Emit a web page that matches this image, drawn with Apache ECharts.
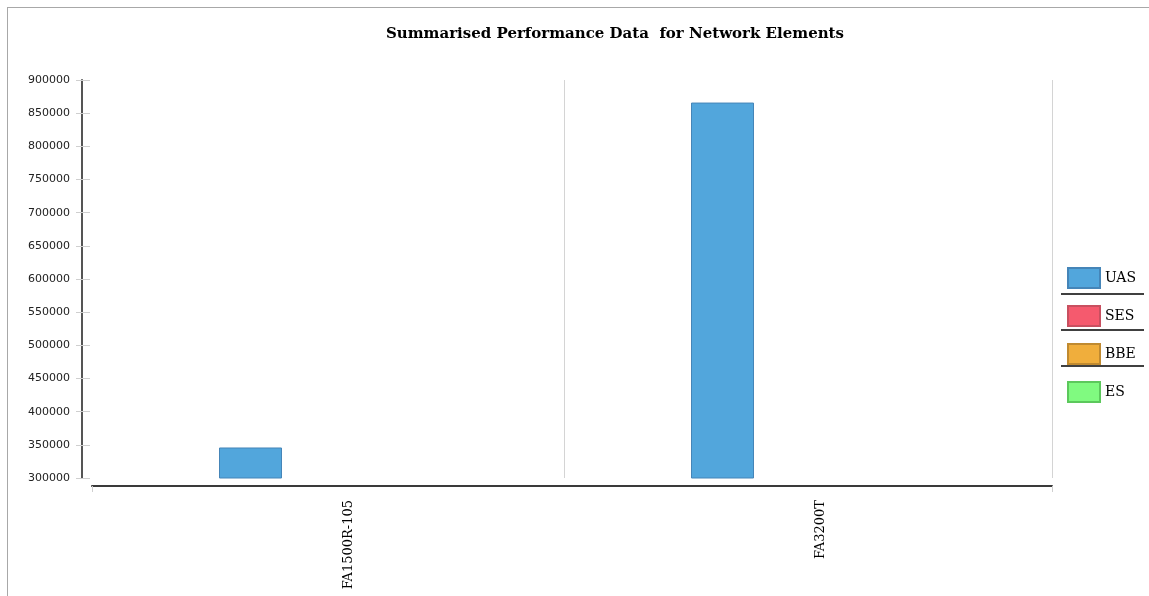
<!DOCTYPE html>
<html>
<head>
<meta charset="utf-8">
<title>Summarised Performance Data</title>
<script src="https://cdn.jsdelivr.net/npm/echarts@6/dist/echarts.min.js"></script>
<style>
  html, body { margin: 0; padding: 0; background: #fff; overflow: hidden; }
  #frame {
    position: absolute; left: 7px; top: 7px;
    width: 1300px; height: 800px;
    border: 1px solid #a8a8a8;
  }
  #chart { position: absolute; left: 0; top: 0; width: 1149px; height: 596px; }
</style>
</head>
<body>
<div id="frame"></div>
<div id="chart"></div>
<script>
// data
const categories = ['FA1500R-105', 'FA3200T']
const seriesNames = ['UAS', 'SES', 'BBE', 'ES']
const uasValues = [346000, 866000]
const sesValues = [null, null]
const bbeValues = [null, null]
const esValues = [null, null]
const yMin = 300000
const yMax = 900000
const yStep = 50000

const colors = {
  UAS: { fill: '#52a6dc', border: '#4585b8' },
  SES: { fill: '#f55a6e', border: '#c85060' },
  BBE: { fill: '#f0ae3c', border: '#c08a30' },
  ES: { fill: '#80fa80', border: '#5cc85c' }
}

const valuesByName = { UAS: uasValues, SES: sesValues, BBE: bbeValues, ES: esValues }

const chart = echarts.init(document.getElementById('chart'))

const option = {
  animation: false,
  title: {
    text: 'Summarised Performance Data  for Network Elements',
    left: 386,
    top: 27,
    padding: 0,
    textStyle: {
      fontFamily: 'DejaVu Serif',
      fontWeight: 'bold',
      fontSize: 15,
      color: '#000'
    }
  },
  legend: {
    orient: 'vertical',
    left: 1067,
    top: 267,
    padding: 0,
    itemWidth: 32,
    itemHeight: 20,
    itemGap: 16,
    icon: 'rect',
    data: seriesNames,
    textStyle: { fontFamily: 'DejaVu Serif', fontSize: 14, color: '#000', padding: [4, 0, 0, 0] }
  },
  grid: [
    { left: 92, right: 113, top: 80, bottom: 118 },
    { left: 92, right: 97, top: 80, bottom: 118 }
  ],
  xAxis: [
    {
      type: 'category',
      gridIndex: 0,
      data: categories,
      offset: 8,
      axisLine: { show: false },
      axisTick: { show: false },
      axisLabel: {
        rotate: 90,
        margin: 14,
        lineHeight: 42,
        formatter: v => '\n' + v,
        fontFamily: 'DejaVu Serif',
        fontSize: 13,
        color: '#000'
      },
      splitLine: {
        show: true,
        lineStyle: { color: ['rgba(0,0,0,0)', '#d4d4d4', 'rgba(0,0,0,0)'], width: 1 }
      }
    },
    {
      type: 'value',
      gridIndex: 1,
      min: 0,
      max: 1,
      interval: 1,
      offset: 8,
      axisLine: { show: true, onZero: false, lineStyle: { color: '#3a3a3a', width: 2 } },
      axisTick: { show: true, length: 6, lineStyle: { color: '#cfcfcf' } },
      axisLabel: { show: false },
      splitLine: { show: true, showMinLine: false, lineStyle: { color: '#d4d4d4' } }
    }
  ],
  yAxis: [
    {
      type: 'value',
      gridIndex: 0,
      position: 'left',
      min: yMin,
      max: yMax,
      interval: yStep,
      offset: 10,
      axisLine: { show: true, onZero: false, lineStyle: { color: '#555', width: 2 } },
      axisTick: { show: true, length: 6, lineStyle: { color: '#cfcfcf' } },
      axisLabel: {
        margin: 12,
        formatter: v => String(v),
        fontFamily: 'DejaVu Sans',
        fontSize: 11,
        color: '#222'
      },
      splitLine: { show: false }
    },
    {
      // inner half of the crossing ticks
      type: 'value',
      gridIndex: 0,
      position: 'left',
      min: yMin,
      max: yMax,
      interval: yStep,
      offset: 10,
      axisLine: { show: false, onZero: false },
      axisTick: { show: true, inside: true, length: 8, lineStyle: { color: '#cfcfcf' } },
      axisLabel: { show: false },
      splitLine: { show: false }
    },
    { type: 'value', gridIndex: 1, min: 0, max: 1, show: false }
  ],
  series: seriesNames.map(name => ({
    name,
    type: 'bar',
    xAxisIndex: 0,
    yAxisIndex: 0,
    data: valuesByName[name],
    barWidth: 63,
    barGap: '-18%',
    itemStyle: {
      color: colors[name].fill,
      borderColor: colors[name].border,
      borderWidth: 1
    }
  })),
  graphic: [
    { type: 'line', shape: { x1: 1061, y1: 294, x2: 1144, y2: 294 }, style: { stroke: '#000', lineWidth: 1.5 } },
    { type: 'line', shape: { x1: 1061, y1: 330, x2: 1144, y2: 330 }, style: { stroke: '#000', lineWidth: 1.5 } },
    { type: 'line', shape: { x1: 1061, y1: 366, x2: 1144, y2: 366 }, style: { stroke: '#000', lineWidth: 1.5 } }
  ]
}

chart.setOption(option)
</script>
</body>
</html>
